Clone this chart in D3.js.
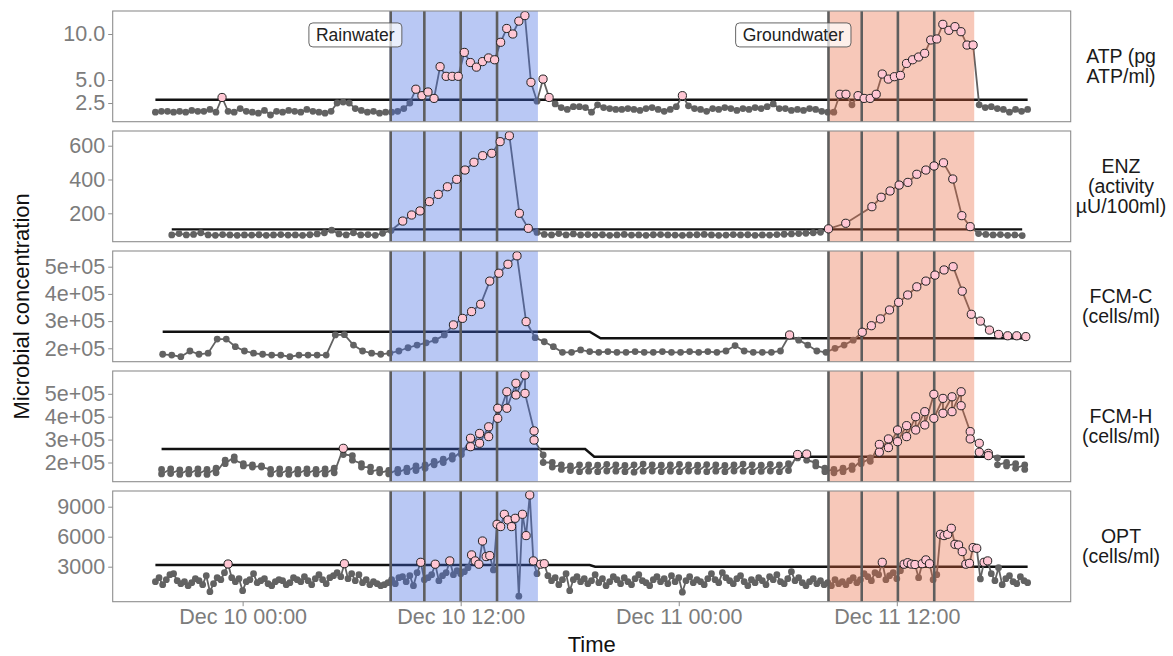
<!DOCTYPE html>
<html><head><meta charset="utf-8">
<script src="https://cdn.jsdelivr.net/npm/d3@7"></script>
<style>body{margin:0;background:#fff}text{font-family:"Liberation Sans",Arial,sans-serif}</style>
</head><body><svg id="c" width="1173" height="656"></svg>
<script>
// ---------- DATA (times are hours after Dec 10 00:00) ----------
const xTickHours = [0, 12, 24, 36];
const rainRect = [8.08, 16.25];
const groundRect = [32.24, 40.26];
const rainLines = [8.15, 10, 12, 14];
const groundLines = [32.24, 34.07, 36.06, 38.06];
const eventLabels = ["Rainwater", "Groundwater"];
const eventLabelTimes = [6.2, 30.3];
const eventLabelValues = [9.9, 9.9];

// ATP: every 20 min from -4.8 h
const atpStart = -4.8, atpStep = 1/3;
const atpValues = [1.5,1.6,1.6,1.5,1.6,1.5,1.7,1.6,1.6,1.8,1.5,
 3.1,
 1.6,1.5,1.9,1.6,1.5,1.4,1.7,1.2,1.6,1.5,1.7,1.6,1.5,1.8,1.6,1.5,1.4,1.6,2.5,2.6,2.5,1.9,1.7,1.5,1.6,1.4,1.5,
 1.5,1.6,1.9,2.5,4.0,3.3,3.7,3.0,6.45,5.4,5.4,5.4,8.0,6.9,6.4,7.0,7.4,7.2,9.1,10.6,10.0,11.4,12.0,4.75,2.7,5.1,3.1,2.4,
 2.0,1.8,2.1,2.1,2.0,1.5,2.3,2.0,1.9,1.8,1.8,1.9,1.8,1.7,1.9,2.0,1.8,1.6,1.8,2.1,3.3,2.2,1.9,1.8,1.6,1.9,1.8,2.0,1.9,1.7,1.9,1.8,2.0,1.9,2.1,2.4,1.9,1.9,1.7,1.8,1.7,1.9,1.8,1.6,1.5,
 1.5,3.45,3.45,2.3,3.3,3.0,3.0,3.45,5.65,5.1,5.36,5.5,6.8,7.2,7.5,7.9,9.35,9.46,11.05,10.4,10.8,10.25,8.8,8.8,
 2.3,2.0,2.1,1.9,1.8,1.5,1.8,1.6,1.8];
const atpThrTimes = [-4.8, 43.2];
const atpThrValues = [2.85, 2.85];

// ENZ: irregular sampling
const enzTimes = [-3.9,-3.5,-3.1,-2.7,-2.3,-1.9,-1.5,-1.1,-0.7,-0.3,0.1,0.5,0.9,1.3,1.7,2.1,2.5,2.9,3.3,3.7,4.1,4.5,4.9,5.3,5.7,6.1,6.5,6.9,7.3,7.7,
 8.17,8.81,9.30,9.76,10.28,10.77,11.27,11.78,12.24,12.73,13.21,13.71,14.17,14.68,15.23,15.72,16.2,
 16.6,17.0,17.4,17.8,18.2,18.6,19.0,19.4,19.8,20.2,20.6,21.0,21.4,21.8,22.2,22.6,23.0,23.4,23.8,24.2,24.6,25.0,25.4,25.8,26.2,26.6,27.0,27.4,27.8,28.2,28.6,29.0,29.4,29.8,30.2,30.6,31.0,31.4,31.8,
 32.24,33.19,34.63,35.14,35.63,36.13,36.61,37.1,37.6,38.05,38.57,39.08,39.58,40.04,
 40.5,40.9,41.3,41.7,42.1,42.5,42.9];
const enzValues = [72,80,72,75,85,72,70,74,72,70,72,71,73,70,72,74,71,72,70,73,78,85,100,78,72,85,72,74,70,82,
 98,154,190,214,269,312,357,401,456,502,541,555,624,659,200,111,87,
 75,72,80,72,78,72,74,71,73,70,72,75,71,72,70,73,74,72,71,70,72,73,75,72,70,71,74,72,73,70,72,71,74,76,78,80,82,85,88,
 108,141,239,295,332,367,383,431,456,480,499,403,186,121,
 80,75,72,74,70,72,68];
const enzThrTimes = [-3.9, 42.9];
const enzThrValues = [105, 105];

// FCM-C: every 30 min from -4.4 h
const fcmcStart = -4.4, fcmcStep = 0.5;
const fcmcValues = [178e3,175e3,169e3,190e3,178e3,182e3,234e3,234e3,206e3,190e3,
 182e3,178e3,175e3,175e3,169e3,175e3,175e3,175e3,175e3,249e3,
 250e3,212e3,190e3,182e3,178e3,182e3,190e3,202e3,212e3,220e3,
 230e3,249e3,286e3,310e3,335e3,362e3,447e3,476e3,509e3,540e3,
 298e3,239e3,224e3,206e3,185e3,185e3,194e3,
 188e3,185e3,188e3,185e3,185e3,188e3,185e3,185e3,188e3,185e3,185e3,188e3,185e3,188e3,185e3,190e3,210e3,190e3,185e3,185e3,185e3,190e3,
 249e3,230e3,212e3,190e3,185e3,200e3,212e3,230e3,259e3,283e3,308e3,341e3,369e3,396e3,426e3,447e3,469e3,488e3,500e3,410e3,325e3,300e3,267e3,251e3,246e3,246e3,243e3];
const fcmcThrTimes = [-4.4, 19.1, 19.7, 43.1];
const fcmcThrValues = [261e3, 261e3, 237e3, 237e3];

// FCM-H: every 30 min from -4.46 h, two replicates
const fcmhStart = -4.46, fcmhStep = 0.5;
const fcmhA = [170e3,172e3,168e3,170e3,172e3,170e3,175e3,210e3,225e3,195e3,190e3,185e3,
 170e3,172e3,170e3,170e3,172e3,170e3,172e3,175e3,262e3,230e3,195e3,180e3,170e3,165e3,170e3,175e3,185e3,190e3,205e3,215e3,230e3,250e3,
 306e3,327e3,356e3,437e3,509e3,546e3,582e3,338e3,233e3,200e3,190e3,185e3,190e3,
 190e3,188e3,192e3,190e3,187e3,190e3,193e3,190e3,188e3,190e3,192e3,190e3,188e3,191e3,190e3,187e3,190e3,193e3,190e3,188e3,192e3,190e3,195e3,
 235e3,237e3,200e3,175e3,170e3,175e3,185e3,210e3,220e3,
 279e3,303e3,342e3,361e3,400e3,422e3,498e3,480e3,487e3,509e3,335e3,284e3,240e3,220e3,200e3,195e3,190e3];
const fcmhB = [150e3,152e3,148e3,150e3,150e3,148e3,155e3,195e3,210e3,185e3,180e3,180e3,
 150e3,150e3,148e3,150e3,152e3,150e3,150e3,155e3,235e3,210e3,180e3,160e3,155e3,150e3,155e3,160e3,165e3,175e3,190e3,200e3,215e3,235e3,
 269e3,284e3,313e3,393e3,437e3,495e3,502e3,298e3,200e3,180e3,170e3,165e3,160e3,
 162e3,160e3,163e3,162e3,160e3,158e3,162e3,163e3,160e3,162e3,160e3,163e3,161e3,160e3,162e3,160e3,163e3,162e3,160e3,161e3,163e3,160e3,165e3,
 220e3,210e3,185e3,160e3,155e3,160e3,170e3,195e3,205e3,
 245e3,265e3,291e3,313e3,342e3,364e3,393e3,415e3,422e3,448e3,303e3,245e3,230e3,190e3,185e3,175e3,170e3];
const fcmhThrTimes = [-4.46, 18.85, 19.35, 43.04];
const fcmhThrValues = [259e3, 259e3, 225e3, 225e3];

// OPT: every 12 min from -4.8 h
const optStart = -4.8, optStep = 0.2;
const optValues = [1500,1900,1200,1700,2200,2300,1600,1300,1500,1100,
 1400,1800,1600,1200,2100,500,1300,1900,1700,2400,
 3270,1900,1500,1800,600,1500,1700,2300,1400,1600,
 1800,1300,1100,1500,1700,1600,1200,1400,1900,1700,
 1500,2000,1600,1200,1800,2200,1700,1300,1900,2100,
 2400,2000,3300,1800,2300,1600,2200,1400,1700,1200,
 1500,1300,1100,1200,1400,1700,1300,1900,2000,1500,
 2100,1100,2400,3440,1700,1900,2200,3250,1600,2100,
 2400,3580,2200,2600,2300,2500,2900,4180,3580,3250,
 5570,4010,4110,2680,7240,7010,8240,7670,7010,7840,
 50,8240,6110,10170,3580,2300,3250,3300,2100,1600,
 1900,1200,1700,2300,600,1700,2000,1500,1800,1300,
 1600,2200,1400,1800,1100,1500,2000,1700,1300,1900,
 1500,1200,1800,2200,1600,1400,1100,1700,2000,1500,
 1800,1300,2100,1500,1900,450,1600,2000,1400,1700,
 1500,1200,1800,2300,1700,1400,2400,1900,1600,1300,
 1800,2100,1500,1100,1700,1400,1900,1600,1200,2000,
 1700,2200,1500,1300,1800,2500,1600,1900,1400,1100,
 1500,1800,1300,1600,1200,1400,1100,1700,1300,1500,
 1200,1600,1900,1400,1700,2300,2000,1600,2400,2200,
 3440,1700,2100,2400,1800,2600,3250,3400,3260,3220,
 1900,3300,3680,3300,1700,2200,6240,6110,6240,6840,
 5240,5170,4510,3250,3340,4910,4840,1780,3440,3580,
 2300,1600,2900,1200,1800,2100,1500,1300,2000,1600,1400];
const optThrTimes = [-4.8, 19.1, 19.4, 43.2];
const optThrValues = [3170, 3170, 3000, 3000];

// axis set-up
const atpTicks = [2.5, 5, 10], atpDomain = [0.47, 12.5];
const enzTicks = [200, 400, 600], enzDomain = [32, 687];
const fcmcTicks = [2e5, 3e5, 4e5, 5e5], fcmcDomain = [150.7e3, 557.7e3];
const fcmhTicks = [2e5, 3e5, 4e5, 5e5], fcmhDomain = [116.2e3, 599.6e3];
const optTicks = [3000, 6000, 9000], optDomain = [-500, 10570];
const stripLabels = [["ATP (pg","ATP/ml)"],["ENZ","(activity","µU/100ml)"],["FCM-C","(cells/ml)"],["FCM-H","(cells/ml)"],["OPT","(cells/ml)"]];

// ---------- BUILD ----------
const seq = (start, step, vals) => vals.map((v, i) => ({t: start + step * i, v}));
const fmtSci = v => (v / 1e5).toFixed(0) + "e+05";
const panels = [
  {pts: seq(atpStart, atpStep, atpValues), thrT: atpThrTimes, thrV: atpThrValues, dom: atpDomain, ticks: atpTicks, fmt: d3.format(".1f")},
  {pts: enzTimes.map((t, i) => ({t, v: enzValues[i]})), thrT: enzThrTimes, thrV: enzThrValues, dom: enzDomain, ticks: enzTicks, fmt: d3.format("d")},
  {pts: seq(fcmcStart, fcmcStep, fcmcValues), thrT: fcmcThrTimes, thrV: fcmcThrValues, dom: fcmcDomain, ticks: fcmcTicks, fmt: fmtSci},
  {pts: fcmhA.flatMap((a, i) => [{t: fcmhStart + fcmhStep * i, v: a}, {t: fcmhStart + fcmhStep * i, v: fcmhB[i]}]), thrT: fcmhThrTimes, thrV: fcmhThrValues, dom: fcmhDomain, ticks: fcmhTicks, fmt: fmtSci},
  {pts: seq(optStart, optStep, optValues), thrT: optThrTimes, thrV: optThrValues, dom: optDomain, ticks: optTicks, fmt: d3.format("d")}
];

const base = Date.UTC(2019, 11, 10, 0, 0);
const toDate = h => new Date(base + h * 3600e3);
const X0 = 112.7, X1 = 1070.7, panelTop0 = 11, panelStep = 120, panelH = 110.7;
const xt = d3.scaleUtc().domain([toDate(-7.15), toDate(45.57)]).range([X0, X1]);
const x = h => xt(toDate(h));

const svg = d3.select("#c");
const GREY = "#626262", TICKCOL = "#7c7c7c";
const TICKFS = "21.5px";

panels.forEach((p, k) => {
  const top = panelTop0 + k * panelStep;
  const y = d3.scaleLinear().domain(p.dom).range([top + panelH, top]);
  const thr = d3.scaleLinear().domain(p.thrT).range(p.thrV).clamp(true);
  const g = svg.append("g");
  g.append("rect").attr("x", X0).attr("y", top).attr("width", X1 - X0).attr("height", panelH).attr("fill", "#fff");
  g.append("path").datum(p.thrT.map((t, i) => [t, p.thrV[i]]))
    .attr("d", d3.line().x(d => x(d[0])).y(d => y(d[1])))
    .attr("fill", "none").attr("stroke", "#111").attr("stroke-width", 2.4);
  g.append("path").datum(p.pts)
    .attr("d", d3.line().x(d => x(d.t)).y(d => y(d.v)))
    .attr("fill", "none").attr("stroke", GREY).attr("stroke-width", 1.8);
  const above = d => d.v > thr(d.t);
  g.selectAll(".gp").data(p.pts.filter(d => !above(d))).join("circle")
    .attr("cx", d => x(d.t)).attr("cy", d => y(d.v)).attr("r", 3.4).attr("fill", GREY);
  g.append("rect").attr("x", x(rainRect[0])).attr("width", x(rainRect[1]) - x(rainRect[0]))
    .attr("y", top).attr("height", panelH).attr("fill", "#4169E1").attr("fill-opacity", 0.37);
  g.append("rect").attr("x", x(groundRect[0])).attr("width", x(groundRect[1]) - x(groundRect[0]))
    .attr("y", top).attr("height", panelH).attr("fill", "#E8663D").attr("fill-opacity", 0.36);
  g.selectAll(".vl").data(rainLines.concat(groundLines)).join("line")
    .attr("x1", d => x(d)).attr("x2", d => x(d)).attr("y1", top).attr("y2", top + panelH)
    .attr("stroke", "#5e5e5e").attr("stroke-width", 2.6);
  g.selectAll(".pp").data(p.pts.filter(above)).join("circle")
    .attr("cx", d => x(d.t)).attr("cy", d => y(d.v)).attr("r", 4.1)
    .attr("fill", "#FFC6D3").attr("stroke", "#222").attr("stroke-width", 1);
  g.append("rect").attr("x", X0).attr("y", top).attr("width", X1 - X0).attr("height", panelH)
    .attr("fill", "none").attr("stroke", "#8e8e8e").attr("stroke-width", 1.1);
  const ax = g.append("g").attr("transform", `translate(${X0},0)`)
    .call(d3.axisLeft(y).tickValues(p.ticks).tickFormat(p.fmt).tickSize(4.5).tickPadding(3));
  ax.select(".domain").remove();
  ax.selectAll("line").attr("stroke", "#8e8e8e");
  ax.selectAll("text").attr("fill", TICKCOL).style("font-size", TICKFS).style("font-family", "Liberation Sans");
  const lines = stripLabels[k];
  const cy = top + panelH / 2, lh = 20;
  g.append("text").attr("x", 1121).attr("text-anchor", "middle").style("font-size", "19.5px").attr("fill", "#1a1a1a")
    .selectAll("tspan").data(lines).join("tspan").attr("x", 1121)
    .attr("y", (d, i) => cy + (i - (lines.length - 1) / 2) * lh + 7).text(d => d);
  if (k === 0) {
    eventLabels.forEach((lab, i) => {
      const lx = x(eventLabelTimes[i]), ly = y(eventLabelValues[i]);
      const lg = g.append("g");
      const txt = lg.append("text").attr("x", lx).attr("y", ly + 6.5).attr("text-anchor", "middle")
        .style("font-size", "17.5px").attr("fill", "#222").text(lab);
      const bb = txt.node().getBBox();
      lg.insert("rect", "text").attr("x", bb.x - 7).attr("y", ly - 12).attr("width", bb.width + 14).attr("height", 24)
        .attr("rx", 4).attr("fill", "#fff").attr("fill-opacity", 0.7).attr("stroke", "#555").attr("stroke-width", 0.9);
    });
  }
  if (k === panels.length - 1) {
    const xa = g.append("g").attr("transform", `translate(0,${top + panelH})`)
      .call(d3.axisBottom(xt).tickValues(xTickHours.map(toDate)).tickFormat(d3.utcFormat("%b %d %H:%M")).tickSize(4.5).tickPadding(3));
    xa.select(".domain").remove();
    xa.selectAll("line").attr("stroke", "#8e8e8e");
    xa.selectAll("text").attr("fill", TICKCOL).style("font-size", TICKFS).style("font-family", "Liberation Sans");
  }
});

svg.append("text").attr("x", (X0 + X1) / 2).attr("y", 652).attr("text-anchor", "middle")
  .style("font-size", "22px").attr("fill", "#111").text("Time");
svg.append("text").attr("transform", `translate(29,${(panelTop0 + panelTop0 + 4 * panelStep + panelH) / 2}) rotate(-90)`)
  .attr("text-anchor", "middle").style("font-size", "22px").attr("fill", "#111").text("Microbial concentration");
</script></body></html>
